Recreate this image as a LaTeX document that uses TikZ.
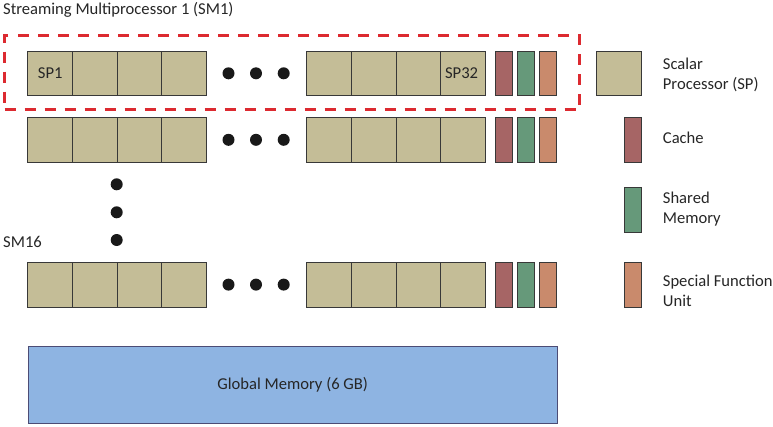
\documentclass[tikz,border=0pt]{standalone}
\usepackage{fontspec}
\setmainfont{Carlito}
\begin{document}
\begin{tikzpicture}[x=1pt,y=-1pt,
  font=\fontsize{16.6}{19.8}\selectfont,
  spbox/.style={draw=black!78,line width=1pt,fill=spc,minimum width=44.65pt,minimum height=44.7pt,inner sep=0pt,outer sep=0pt,anchor=north west},
  thin/.style={draw=black!78,line width=1pt,minimum width=17.2pt,minimum height=44.7pt,inner sep=0pt,outer sep=0pt,anchor=north west},
  cachebox/.style={thin,fill=cachec},
  shbox/.style={thin,fill=shc},
  sfubox/.style={thin,fill=sfuc},
  dotc/.style={circle,fill=black!90,minimum size=12pt,inner sep=0pt},
  lbl/.style={inner sep=0pt,text=black!85},
  legtext/.style={inner sep=0pt,text=black!85,align=left,anchor=base west}
]
\definecolor{spc}{HTML}{C4BD97}
\definecolor{cachec}{HTML}{A66565}
\definecolor{shc}{HTML}{66997A}
\definecolor{sfuc}{HTML}{C98A6C}
\definecolor{gmc}{HTML}{8EB4E2}
\definecolor{dashred}{HTML}{DC2A30}
\useasboundingbox (0,0) rectangle (773,426);

\node[lbl,anchor=base west] (title) at (3,14) {Streaming Multiprocessor 1 (SM1)};

% rows
\foreach \r/\y in {a/51,b/117.5,c/262.3}{
  \foreach \i/\x in {1/27.7,2/72.35,3/117,4/161.65}{
    \node[spbox] (\r L\i) at (\x,\y) {};
  }
  \foreach \i/\x in {1/306.7,2/351.35,3/396,4/440.65}{
    \node[spbox] (\r R\i) at (\x,\y) {};
  }
  \node[cachebox] (\r C) at (495,\y) {};
  \node[shbox] (\r S) at (517.3,\y) {};
  \node[sfubox] (\r F) at (539.5,\y) {};
  \foreach \j/\x in {1/228.5,2/256,3/283.7}{
    \node[dotc] (\r D\j) at (\x,\y+22.3) {};
  }
}

\node[lbl,anchor=base west] (sp1) at (37.7,78.3) {SP1};
\node[lbl,anchor=base east] (sp32) at (478.3,78.3) {SP32};

% vertical dots
\node[dotc] (v1) at (116.7,184.3) {};
\node[dotc] (v2) at (116.7,212.3) {};
\node[dotc] (v3) at (116.7,240) {};

\node[lbl,anchor=base west] (sm16) at (3,247.3) {SM16};

% dashed frame
\node[draw=dashred,line width=3pt,dash pattern=on 11pt off 9pt,inner sep=0pt,
  minimum width=575pt,minimum height=74pt,anchor=north west] (sm1frame) at (3,34) {};

% global memory
\node[draw=black!60!blue!40!gray,line width=1pt,fill=gmc,minimum width=529pt,minimum height=77.5pt,
  anchor=north west,inner sep=0pt,text=black!85] (gm) at (27.7,345.7) {};
\node[lbl] (gmt) at (gm.center) {Global Memory (6 GB)};

% legend
\node[spbox,minimum width=45pt] (lsp) at (596.7,51) {};
\node[cachebox] (lc) at (624.4,117.5) {};
\node[shbox] (ls) at (624.4,187.5) {};
\node[sfubox] (lf) at (624.4,262.4) {};

\node[legtext] (tsp) at (662.7,89) {Scalar\\Processor (SP)};
\node[legtext] (tc) at (662.7,143.3) {Cache};
\node[legtext] (ts) at (662.7,223.5) {Shared\\Memory};
\node[legtext] (tf) at (662.7,306.7) {Special Function\\Unit};
\end{tikzpicture}
\end{document}
